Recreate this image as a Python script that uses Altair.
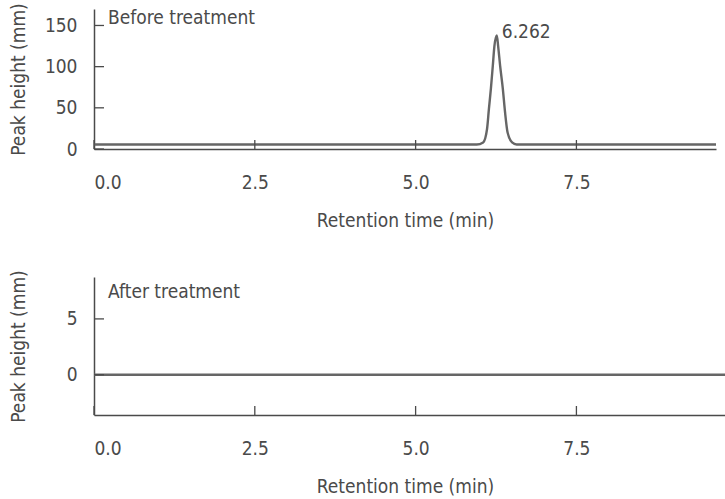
import altair as alt
import pandas as pd

FONT = "Liberation Sans Narrow, DejaVu Sans Condensed, Roboto Condensed, Arial Narrow, sans-serif"
INK = "#4a4a4a"
TRACE = "#666666"

# Chromatogram before treatment: retention time (min) vs. peak height (mm)
before_time = [0.0, 5.95, 6.05, 6.11, 6.14, 6.17, 6.20, 6.225, 6.262,
               6.283, 6.314, 6.356, 6.39, 6.43, 6.50, 6.57, 9.67]
before_height = [5.5, 5.5, 8, 24, 49, 73, 101, 125, 138,
                 125, 101, 73, 45, 20, 8, 5.5, 5.5]

# Chromatogram after treatment: flat baseline
after_time = [0.0, 9.81]
after_height = [0.0, 0.0]

# Annotated peak
peak_time = [6.262]
peak_height = [138]
peak_label = ["6.262"]

x_ticks = [0.0, 2.5, 5.0, 7.5]
before_y_ticks = [0, 50, 100, 150]
after_y_ticks = [0, 5]

panel_titles = ["Before treatment", "After treatment"]


def panel(trace, x_domain, width, y_domain, height, y_ticks, name,
          name_y, peak=None):
    X = alt.X(
        "time:Q",
        scale=alt.Scale(domain=x_domain, nice=False, zero=False),
        axis=alt.Axis(
            values=x_ticks, format=".1f", ticks=False, grid=False,
            labelPadding=24, title="Retention time (min)", titlePadding=19,
            titleX=311,
        ),
    )
    Y = alt.Y(
        "height:Q",
        scale=alt.Scale(domain=y_domain, nice=False, zero=False),
        axis=alt.Axis(
            values=y_ticks, ticks=False, grid=False, labelPadding=17,
            title="Peak height (mm)", titleX=-66, titleY=height / 2,
        ),
    )

    line = alt.Chart(trace).mark_line(
        color=TRACE, strokeWidth=2.4, interpolate="monotone", clip=True
    ).encode(x=X, y=Y)

    # inward-pointing tick marks on both axes
    xtick_df = pd.DataFrame({"time": x_ticks})
    xticks = alt.Chart(xtick_df).mark_rule(color=INK, strokeWidth=1.3).encode(
        x=X, y=alt.value(height), y2=alt.value(height - 9)
    )
    ytick_df = pd.DataFrame({"height": y_ticks})
    yticks = alt.Chart(ytick_df).mark_rule(color=INK, strokeWidth=1.3).encode(
        y=Y, x=alt.value(0), x2=alt.value(10)
    )

    label = alt.Chart(pd.DataFrame({"name": [name]})).mark_text(
        align="left", baseline="middle", font=FONT, fontSize=19, color=INK
    ).encode(text="name:N", x=alt.value(14), y=alt.value(name_y))

    layers = [line, xticks, yticks, label]
    if peak is not None:
        layers.append(
            alt.Chart(peak).mark_text(
                align="left", baseline="alphabetic", dx=5, dy=3,
                font=FONT, fontSize=19, color=INK,
            ).encode(x=X, y=Y, text="label:N")
        )
    return alt.layer(*layers).properties(width=width, height=height)


before_df = pd.DataFrame({"time": before_time, "height": before_height})
after_df = pd.DataFrame({"time": after_time, "height": after_height})
peak_df = pd.DataFrame({"time": peak_time, "height": peak_height, "label": peak_label})

top = panel(before_df, [0, 9.67], 622, [0, 170], 140, before_y_ticks,
            panel_titles[0], 9, peak=peak_df)
bottom = panel(after_df, [0, 9.81], 631, [-3.6, 8.75], 138, after_y_ticks,
               panel_titles[1], 15)

chart = alt.vconcat(top, bottom, spacing=39).properties(
    padding={"left": 9, "top": 2, "right": 0, "bottom": 0}
).configure_view(stroke=None).configure_axis(
    domainColor=INK, domainWidth=1.5,
    labelFont=FONT, labelFontSize=19, labelColor=INK,
    titleFont=FONT, titleFontSize=19, titleFontWeight="normal", titleColor=INK,
)

chart.save("out.html", embed_options={"renderer": "svg", "actions": False})
